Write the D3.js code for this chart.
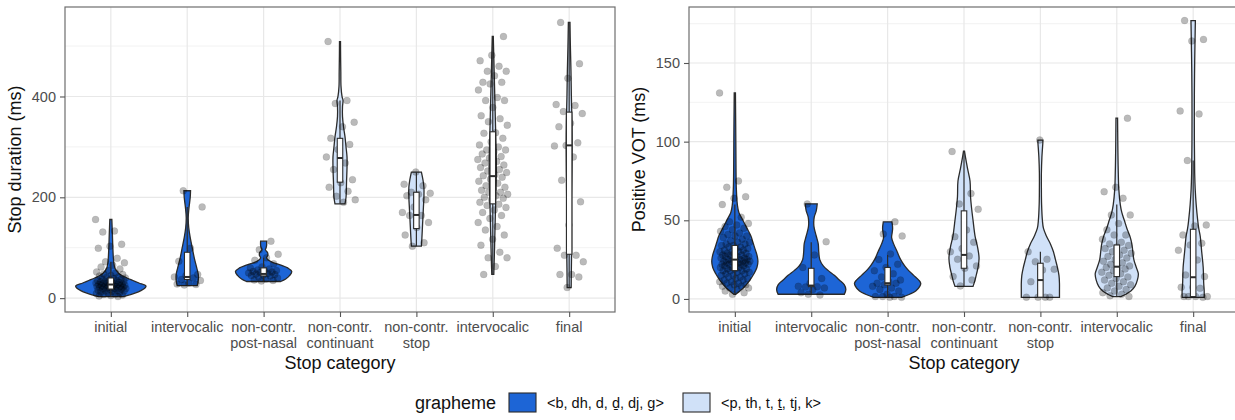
<!DOCTYPE html>
<html>
<head>
<meta charset="utf-8">
<script src="https://cdn.jsdelivr.net/npm/d3@7"></script>
<style>
  body { margin: 0; background: #fff; }
  svg { display: block; font-family: "Liberation Sans", Arial, sans-serif; }
</style>
</head>
<body>
<svg id="chart" width="1235" height="420"></svg>
<script>
// ---- categories and grouping ----
const categories = ["initial", "intervocalic", "non-contr.\npost-nasal", "non-contr.\ncontinuant",
                    "non-contr.\nstop", "intervocalic", "final"];
const graphemeOf = [0, 0, 0, 1, 1, 1, 1];
const graphemeLabels = ["<b, dh, d, ḏ, dj, g>", "<p, th, t, ṯ, tj, k>"];

// ---- axis ticks ----
const durTicks = [0, 200, 400];
const durMinor = [100, 300, 500];
const votTicks = [0, 50, 100, 150];
const votMinor = [25, 75, 125, 175];

// ---- stop duration (ms): observations per category ----
const durInitial = [156, 133, 131, 107, 103, 99, 79, 72, 70, 65, 62, 58, 55, 52, 50, 48, 47, 45, 44, 42, 41, 40,
  39, 38, 37, 36, 35, 35, 34, 33, 32, 32, 31, 30, 30, 29, 29, 28, 28, 27, 27, 26, 26, 25, 25, 24, 24, 23, 23, 22,
  22, 21, 21, 20, 20, 19, 19, 18, 18, 17, 16, 15, 14, 14, 13, 12, 11, 10, 9, 8, 7, 6, 5, 4, 3];
const durInterv = [213, 181, 99, 73, 47, 45, 42, 40, 37, 35, 30, 28, 27, 26];
const durPostNasal = [113, 96, 87, 80, 75, 68, 62, 60, 58, 56, 55, 54, 53, 52, 51, 50, 49, 48, 47, 46, 45, 44, 42,
  40, 38, 36, 35, 34];
const durContinuant = [509, 392, 386, 349, 340, 317, 305, 295, 280, 268, 255, 235, 229, 220, 212, 202, 195, 190];
const durStop = [250, 226, 223, 210, 208, 206, 203, 195, 181, 170, 164, 164, 150, 140, 125, 110, 103];
const durIntervVl = [519, 482, 471, 460, 450, 450, 441, 428, 428, 425, 413, 398, 392, 392, 378, 362, 356, 350, 343,
  328, 327, 317, 310, 304, 300, 294, 294, 290, 286, 281, 278, 275, 271, 268, 264, 262, 259, 255, 252, 249, 245, 243,
  240, 236, 232, 228, 223, 220, 216, 214, 210, 210, 206, 203, 200, 198, 195, 190, 186, 184, 180, 175, 170, 164, 158,
  150, 142, 135, 125, 117, 105, 91, 80, 80, 63, 47];
const durFinal = [547, 465, 436, 384, 382, 370, 366, 347, 340, 308, 303, 302, 280, 234, 191, 145, 99, 85, 85, 72,
  47, 47, 42, 21];

// ---- positive VOT (ms): observations per category ----
const votInitial = [131, 75, 71, 65, 64, 60, 52, 49, 48, 47, 46, 45, 44, 43, 42, 41, 40, 40, 39, 38, 37, 36, 36, 35,
  35, 34, 34, 33, 33, 32, 32, 31, 31, 30, 30, 30, 29, 29, 29, 28, 28, 28, 27, 27, 27, 26, 26, 26, 25, 25, 25, 25, 24,
  24, 24, 24, 23, 23, 23, 23, 22, 22, 22, 22, 21, 21, 21, 20, 20, 20, 19, 19, 19, 18, 18, 18, 17, 17, 16, 16, 15, 15,
  14, 14, 13, 13, 12, 12, 11, 11, 10, 10, 9, 9, 8, 8, 7, 7, 6, 5, 4, 3];
const votInterv = [60.4, 36.4, 28, 20, 13, 10, 8, 7.8, 7.6, 7, 6, 4, 2.5, 3];
const votPostNasal = [49, 41.3, 40, 28.6, 25, 22, 20, 18, 16, 14, 12, 11, 10, 10, 9, 8, 7, 6, 5, 3, 1.5, 1.5, 1.5, 1, 1];
const votContinuant = [93.7, 67, 60.4, 57, 43.9, 39.6, 36, 32, 30, 27.3, 25.2, 21, 19.5, 14.2, 12, 8.3];
const votStop = [101, 30, 25.2, 23.7, 18.9, 18.4, 11, 1.1, 1.1, 1.1, 1.1];
const votIntervVl = [114.9, 71, 68.2, 64, 53.4, 53.4, 48, 44, 40.7, 40.7, 38, 36, 35, 34, 33, 32, 31, 30, 29, 28, 27,
  26, 25, 24, 23, 22, 21, 20, 20, 19, 18, 17, 16, 15, 14, 13, 12, 11, 10, 9, 8, 7, 6, 5, 4, 3, 2, 1.5];
const votFinal = [177, 165, 164, 119.5, 117.6, 88, 47, 46.4, 40.7, 35.4, 34.3, 31, 24.8, 15.3, 14.2, 7.4, 7.4, 6.8,
  1.5, 1.5, 1.5, 1.5, 1];

// ---- violin density profiles: [value, density] ----
const durDensity = [
  [[3, 12], [5, 16], [10, 24], [15, 30], [20, 34], [24, 35], [30, 28], [35, 22], [40, 16], [45, 11], [50, 7.5],
   [60, 4], [70, 3], [80, 2.5], [100, 2], [130, 1.5], [156, 1]],
  [[25, 10], [35, 11], [47, 11], [60, 9.5], [80, 7], [100, 5], [120, 3], [140, 1.5], [160, 1], [180, 1.8],
   [200, 3], [213, 3.3]],
  [[33, 17], [38, 22], [45, 26], [53, 28], [60, 24], [65, 18], [70, 10], [75, 5], [80, 3], [85, 4.2], [90, 4],
   [96, 1.8], [100, 2.5], [105, 3], [113, 3]],
  [[187, 5], [200, 6], [230, 6.5], [260, 7], [280, 7], [300, 6], [320, 5], [340, 3.5], [360, 2.5], [380, 2.5],
   [392, 3], [400, 2], [420, 1], [450, 0.8], [480, 0.6], [509, 0.5]],
  [[103, 5], [120, 5.5], [140, 6], [160, 6.5], [180, 7], [200, 7.5], [220, 7.5], [235, 6.5], [250, 5]],
  [[47, 1], [80, 1.5], [120, 2], [160, 2.5], [200, 3], [240, 3.5], [280, 3.5], [320, 3], [360, 2.5], [400, 2],
   [440, 1.5], [480, 1], [519, 0.5]],
  [[21, 2], [60, 2.2], [100, 2.5], [150, 2.5], [200, 2.5], [250, 2.8], [300, 3], [350, 2.8], [400, 2.2],
   [450, 1.8], [500, 1.2], [547, 0.8]]
];
const votDensity = [
  [[3, 1], [5, 5], [8, 10], [12, 15], [16, 19], [20, 22], [24, 23], [28, 22], [32, 20], [36, 18], [40, 16],
   [45, 12], [50, 8], [55, 4], [60, 2.5], [70, 1.5], [80, 1.2], [100, 1], [131, 0.6]],
  [[3, 33], [6, 34.5], [9, 33], [12, 28], [15, 23], [18, 17], [21, 12], [25, 8.5], [30, 7.5], [35, 7], [40, 5],
   [45, 3], [48, 2.5], [52, 3], [56, 5], [60.5, 6]],
  [[1, 14], [3, 22], [5, 28], [8, 32], [10, 33], [12, 31], [15, 26], [18, 21], [21, 17], [25, 13], [30, 9.5],
   [35, 6], [39, 4], [42, 4.5], [45, 5], [49, 4.3]],
  [[8, 9], [12, 11], [16, 12.5], [20, 14], [26, 15], [33, 13.5], [40, 11], [50, 9], [58, 7.5], [65, 6.5], [75, 6],
   [83, 3.5], [90, 1.5], [94, 0.5]],
  [[1, 19], [5, 19], [10, 19], [15, 18.5], [20, 17], [25, 15], [30, 13], [35, 10], [40, 6], [45, 3], [50, 2],
   [60, 1.2], [70, 1], [80, 1], [90, 1.5], [100, 2.5], [101, 2.5]],
  [[1.5, 4], [3, 9], [5, 14], [8, 18], [12, 20.5], [16, 21.5], [20, 19.5], [25, 17], [30, 16], [35, 15], [40, 13],
   [45, 10], [50, 7.5], [55, 5], [60, 3.5], [70, 2], [80, 1.5], [90, 1.2], [100, 1], [115, 0.8]],
  [[1, 11], [5, 11], [10, 10.5], [20, 10], [30, 8.5], [40, 7], [45, 5.5], [50, 4.5], [60, 3], [70, 2], [80, 1.5],
   [100, 1.2], [130, 1.2], [150, 1.5], [170, 2], [177, 2.2]]
];

// ---- box summaries: [lower whisker, q1, median, q3, upper whisker] ----
const durBoxes = [[3, 18, 27, 40, 72], [25, 37, 42, 91, 181], [33, 44, 48, 60, 80], [187, 230, 278, 317, 392],
  [103, 138, 165, 210, 250], [47, 187, 242, 330, 519], [21, 87, 303, 369, 547]];
const votBoxes = [[3, 18, 25, 34, 60], [3, 7.8, 8.5, 19.5, 36], [1, 8.9, 10, 20, 28], [8, 19.5, 28, 56, 94],
  [1, 1.1, 12, 22.7, 30], [1.5, 14.2, 20.5, 34.3, 60], [1, 1.5, 13.8, 44.3, 88]];

const durPoints = [durInitial, durInterv, durPostNasal, durContinuant, durStop, durIntervVl, durFinal];
const votPoints = [votInitial, votInterv, votPostNasal, votContinuant, votStop, votIntervVl, votFinal];

// ---- styling ----
const fills = ["#1d65d6", "#d0e1f8"];
const outline = "#2b2b2b";
const gridMajor = "#e8e8e8";
const gridMinor = "#f1f1f1";

const svg = d3.select("#chart");

function drawPanel(cfg) {
  const { left, right, top, bottom, domain, ticks, minor, density, boxes, points, title, titleX, id } = cfg;
  const g = svg.append("g");

  const x = d3.scalePoint().domain(d3.range(categories.length)).range([left, right]).padding(0.6);
  const y = d3.scaleLinear().domain(domain).range([bottom, top]);
  const step = x.step();
  const w = d3.scaleLinear().domain([0, 35]).range([0, 0.46 * step]);

  g.append("clipPath").attr("id", id).append("rect")
    .attr("x", left).attr("y", top).attr("width", right - left).attr("height", bottom - top);

  // grid
  const grid = g.append("g");
  grid.selectAll(".minor").data(minor).join("line")
    .attr("x1", left).attr("x2", right).attr("y1", d => y(d)).attr("y2", d => y(d))
    .attr("stroke", gridMinor).attr("stroke-width", 0.9);
  grid.selectAll(".major").data(ticks).join("line")
    .attr("x1", left).attr("x2", right).attr("y1", d => y(d)).attr("y2", d => y(d))
    .attr("stroke", gridMajor).attr("stroke-width", 1.2);
  grid.selectAll(".vmajor").data(d3.range(categories.length)).join("line")
    .attr("x1", d => x(d)).attr("x2", d => x(d)).attr("y1", top).attr("y2", bottom)
    .attr("stroke", gridMajor).attr("stroke-width", 1.2);

  const plot = g.append("g").attr("clip-path", `url(#${id})`);

  // violins
  density.forEach((prof, i) => {
    const cx = x(i);
    const area = d3.area()
      .y(d => y(d[0]))
      .x0(d => cx - w(d[1]))
      .x1(d => cx + w(d[1]))
      .curve(d3.curveCatmullRom.alpha(0.5));
    plot.append("path").attr("d", area(prof))
      .attr("fill", fills[graphemeOf[i]]).attr("stroke", outline).attr("stroke-width", 1.3);
  });

  // jittered observations
  points.forEach((vals, i) => {
    const cx = x(i);
    const half = 0.2 * step;
    plot.append("g").selectAll("circle").data(vals).join("circle")
      .attr("cx", (d, k) => cx + (((k * 0.6180339887 + i * 0.37) % 1) - 0.5) * 2 * half)
      .attr("cy", d => y(d))
      .attr("r", 3.5)
      .attr("fill", "#000").attr("fill-opacity", 0.27)
      .attr("stroke", "#000").attr("stroke-opacity", 0.12).attr("stroke-width", 0.6);
  });

  // boxes
  boxes.forEach((b, i) => {
    const cx = x(i);
    const bw = 5.5;
    plot.append("line").attr("x1", cx).attr("x2", cx).attr("y1", y(b[0])).attr("y2", y(b[4]))
      .attr("stroke", outline).attr("stroke-width", 1.2);
    plot.append("rect").attr("x", cx - bw / 2).attr("width", bw)
      .attr("y", y(b[3])).attr("height", Math.max(0.5, y(b[1]) - y(b[3])))
      .attr("fill", "#fff").attr("stroke", outline).attr("stroke-width", 1.1);
    plot.append("line").attr("x1", cx - bw / 2).attr("x2", cx + bw / 2).attr("y1", y(b[2])).attr("y2", y(b[2]))
      .attr("stroke", outline).attr("stroke-width", 2);
  });

  // border
  g.append("rect").attr("x", left).attr("y", top).attr("width", right - left).attr("height", bottom - top)
    .attr("fill", "none").attr("stroke", "#6e6e6e").attr("stroke-width", 1.2);

  // y axis
  const yAxis = g.append("g").attr("transform", `translate(${left},0)`)
    .call(d3.axisLeft(y).tickValues(ticks).tickSize(5).tickPadding(4));
  yAxis.select(".domain").remove();
  yAxis.selectAll(".tick line").attr("stroke", "#555").attr("stroke-width", 1.1);
  yAxis.selectAll(".tick text").attr("fill", "#4d4d4d").style("font-size", "14.5px")
    .style("font-family", "'Liberation Sans', Arial, sans-serif");

  // x axis
  const xAxis = g.append("g").attr("transform", `translate(0,${bottom})`)
    .call(d3.axisBottom(x).tickSize(5).tickFormat(""));
  xAxis.select(".domain").remove();
  xAxis.selectAll(".tick line").attr("stroke", "#555").attr("stroke-width", 1.1);
  const labels = g.append("g");
  categories.forEach((c, i) => {
    const t = labels.append("text").attr("text-anchor", "middle").attr("fill", "#4d4d4d")
      .style("font-size", "14.5px");
    c.split("\n").forEach((line, k) => {
      t.append("tspan").attr("x", x(i)).attr("y", bottom + 19.5 + k * 16).text(line);
    });
  });

  // axis titles
  g.append("text").attr("x", (left + right) / 2).attr("y", 369).attr("text-anchor", "middle")
    .style("font-size", "18px").attr("fill", "#111").text("Stop category");
  g.append("text").attr("transform", `translate(${titleX},${(top + bottom) / 2}) rotate(-90)`)
    .attr("text-anchor", "middle").style("font-size", "18px").attr("fill", "#111").text(title);
}

drawPanel({
  id: "clipDur", left: 65, right: 615, top: 7, bottom: 312, domain: [-27.5, 577.5],
  ticks: durTicks, minor: durMinor, density: durDensity, boxes: durBoxes, points: durPoints,
  title: "Stop duration (ms)", titleX: 21
});
drawPanel({
  id: "clipVot", left: 689, right: 1239, top: 7, bottom: 312, domain: [-8.3, 185.6],
  ticks: votTicks, minor: votMinor, density: votDensity, boxes: votBoxes, points: votPoints,
  title: "Positive VOT (ms)", titleX: 645
});

// legend
const legend = svg.append("g");
legend.append("text").attr("x", 415).attr("y", 409).style("font-size", "18px").attr("fill", "#111").text("grapheme");
const keyX = [509, 683];
graphemeLabels.forEach((lab, i) => {
  legend.append("rect").attr("x", keyX[i]).attr("y", 393).attr("width", 27).attr("height", 19)
    .attr("fill", fills[i]).attr("stroke", outline).attr("stroke-width", 1.1);
  legend.append("text").attr("x", keyX[i] + 38).attr("y", 407.5).style("font-size", "14.5px")
    .attr("fill", "#111").text(lab);
});
</script>
</body>
</html>
